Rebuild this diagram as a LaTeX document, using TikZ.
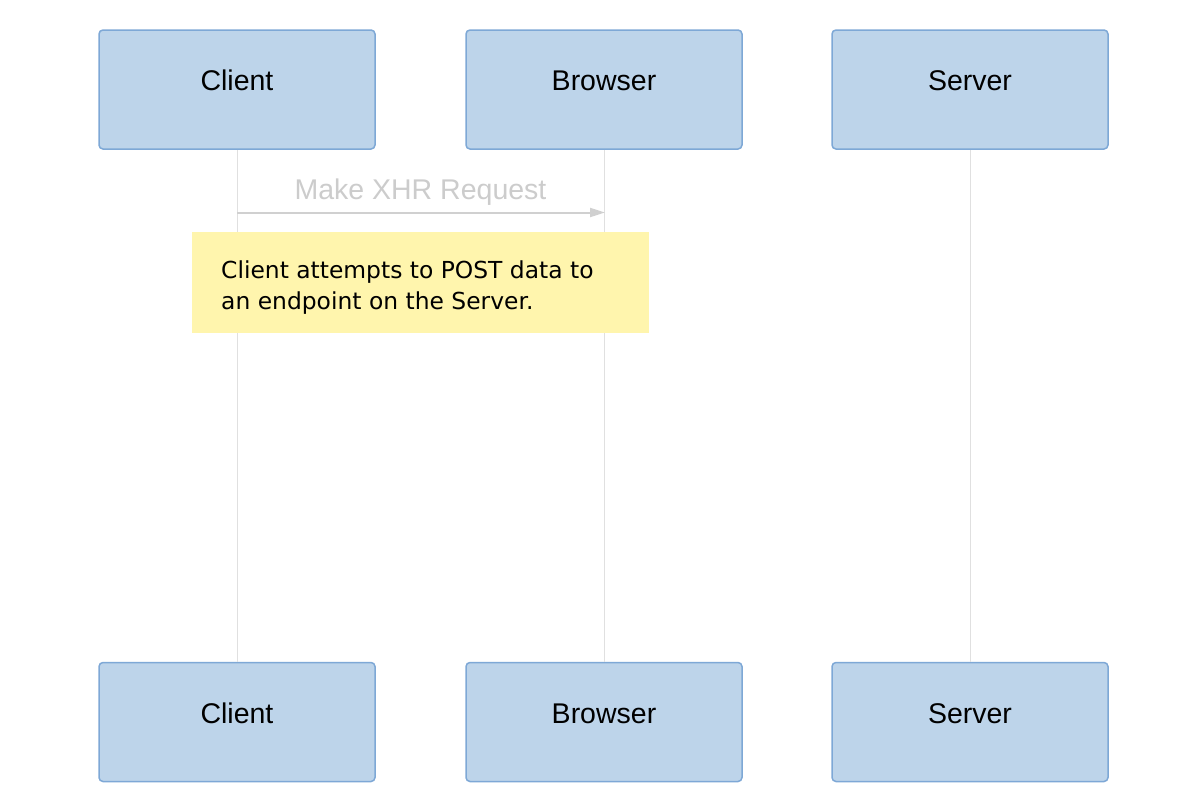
\documentclass[tikz,border=0pt]{standalone}
\usepackage{fontspec}
\setmainfont{Liberation Sans}
\newfontfamily\notefont{DejaVu Sans}
\usetikzlibrary{arrows.meta}
\definecolor{boxfill}{RGB}{189,212,234}
\definecolor{boxline}{RGB}{126,168,214}
\definecolor{lifeline}{RGB}{224,224,224}
\definecolor{msgline}{RGB}{208,208,208}
\definecolor{msgtext}{RGB}{204,204,204}
\definecolor{notefill}{RGB}{255,245,173}
\begin{document}
\begin{tikzpicture}[x=1pt,y=-1pt,
  actorbox/.style={draw=boxline,fill=boxfill,line width=1.5pt,rounded corners=4pt,minimum width=276pt,minimum height=119pt,inner sep=0pt},
  actortext/.style={font=\fontsize{28.5}{34}\selectfont,text=black,anchor=base,inner sep=0pt},
  lifel/.style={draw=lifeline,line width=1pt},
  msg/.style={draw=msgline,line width=2pt,-{Triangle[length=15pt,width=9pt]}},
  msgtxt/.style={font=\fontsize{28.5}{34}\selectfont,text=msgtext,anchor=base,inner sep=0pt},
  notebox/.style={fill=notefill,draw=none,minimum width=457pt,minimum height=101pt,inner sep=0pt},
  notetxt/.style={font=\notefont\fontsize{23.4}{28}\selectfont,text=black,anchor=base west,inner sep=0pt}]
\useasboundingbox (0,0) rectangle (1200,798);
\fill[white] (0,0) rectangle (1200,798);
% actor boxes
\node[actorbox] (ct) at (237,89.5) {};
\node[actorbox] (bt) at (604,89.5) {};
\node[actorbox] (st) at (970,89.5) {};
\node[actorbox] (cb) at (237,722) {};
\node[actorbox] (bb) at (604,722) {};
\node[actorbox] (sb) at (970,722) {};
% lifelines
\draw[lifel] (ct.south) -- (cb.north);
\draw[lifel] (bt.south) -- (bb.north);
\draw[lifel] (st.south) -- (sb.north);
% labels
\node[actortext] (ctl) at (237,90) {Client};
\node[actortext] (btl) at (604,90) {Browser};
\node[actortext] (stl) at (970,90) {Server};
\node[actortext] (cbl) at (237,723) {Client};
\node[actortext] (bbl) at (604,723) {Browser};
\node[actortext] (sbl) at (970,723) {Server};
% message
\coordinate (m1) at (237,212.5);
\coordinate (m2) at (605,212.5);
\draw[msg] (m1) -- (m2);
\node[msgtxt] (ml) at (420.5,199) {Make XHR Request};
% note
\node[notebox] (note) at (420.5,282.5) {};
\node[notetxt] (n1) at (221,278) {Client attempts to POST data to};
\node[notetxt] (n2) at (221,309) {an endpoint on the Server.};
\end{tikzpicture}
\end{document}
